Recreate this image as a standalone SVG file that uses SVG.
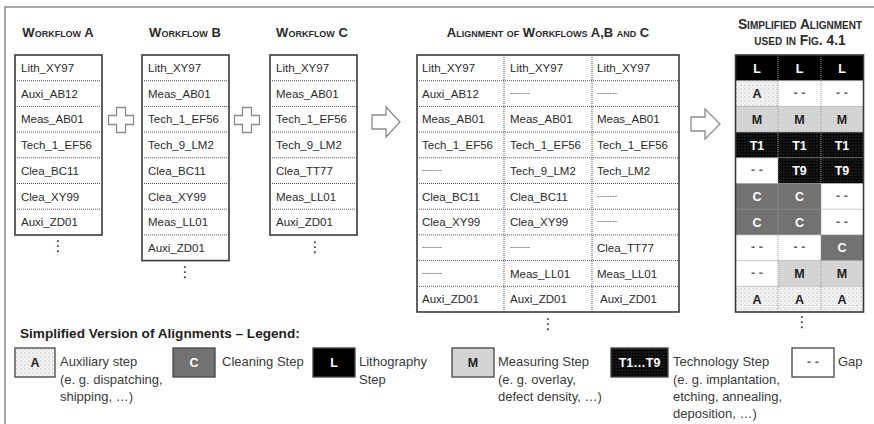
<svg xmlns="http://www.w3.org/2000/svg" width="874" height="424" viewBox="0 0 874 424">
  <defs>
    <style>
      .hdr { font-family: "Liberation Sans", Arial, sans-serif; font-weight: bold; font-size: 13px; font-variant: small-caps; fill: #2b2b2b; }
      .hdr2 { font-size: 13.8px; }
      .cell { font-family: "Liberation Sans", Arial, sans-serif; font-size: 11.5px; fill: #2b2b2b; }
      .gapt { font-family: "Liberation Sans", Arial, sans-serif; font-size: 7.5px; fill: #3a3a3a; }
      .box { fill: #fff; stroke: #3a3a3a; stroke-width: 1.6; }
      .sep { stroke: #555; stroke-width: 1; stroke-dasharray: 1 1; fill: none; }
      .sepl { stroke: #999; stroke-width: 1; stroke-dasharray: 1 1; fill: none; }
      .more { font-family: "DejaVu Sans", sans-serif; font-size: 15px; fill: #333; text-anchor: middle; }
      .sym { font-family: "Liberation Sans", Arial, sans-serif; font-weight: bold; font-size: 12.5px; text-anchor: middle; }
      .w { fill: #fff; }
      .d { fill: #222; }
      .dash { fill: #666; }
      .leg { font-family: "Liberation Sans", Arial, sans-serif; font-size: 13px; fill: #3a3a3a; }
      .legt { font-family: "Liberation Sans", Arial, sans-serif; font-size: 13.6px; font-weight: bold; fill: #222; }
      .conn { fill: #fff; stroke: #8a8a8a; stroke-width: 1.3; stroke-linejoin: miter; }
      .lbox { stroke: #444; stroke-width: 1.3; }
    </style>
    <pattern id="aux" width="4" height="4" patternUnits="userSpaceOnUse">
      <rect width="4" height="4" fill="#f3f3f3"/>
      <circle cx="1" cy="1" r="0.55" fill="#9a9a9a"/>
      <circle cx="3" cy="3" r="0.45" fill="#b5b5b5"/>
    </pattern>
    <pattern id="tech" width="3" height="3" patternUnits="userSpaceOnUse">
      <rect width="3" height="3" fill="#050505"/>
      <circle cx="1" cy="1" r="0.6" fill="#5a5a5a"/>
    </pattern>
    <path id="plus" d="M-4.5,-12.5 H4.5 V-4.5 H12.5 V4.5 H4.5 V12.5 H-4.5 V4.5 H-12.5 V-4.5 H-4.5 Z"/>
  </defs>

  <rect width="874" height="424" fill="#fff"/>
  <!-- frame -->
  <path d="M5,424 V7 H874" fill="none" stroke="#a8a8a8" stroke-width="2"/>

  <!-- Workflow A -->
  <g id="workflow-a">
    <text class="hdr" x="58" y="37" text-anchor="middle">Workflow A</text>
    <rect class="box" x="15" y="55" width="87" height="180"/>
    <path class="sep" d="M15,80.7 H102 M15,106.4 H102 M15,132.1 H102 M15,157.8 H102 M15,183.5 H102 M15,209.2 H102"/>
    <g class="cell">
      <text x="21" y="72">Lith_XY97</text>
      <text x="21" y="97.7">Auxi_AB12</text>
      <text x="21" y="123.4">Meas_AB01</text>
      <text x="21" y="149.1">Tech_1_EF56</text>
      <text x="21" y="174.8">Clea_BC11</text>
      <text x="21" y="200.5">Clea_XY99</text>
      <text x="21" y="226.2">Auxi_ZD01</text>
    </g>
    <text class="more" x="58" y="251">⋮</text>
  </g>

  <!-- Workflow B -->
  <g id="workflow-b">
    <text class="hdr" x="185" y="37" text-anchor="middle">Workflow B</text>
    <rect class="box" x="142" y="55" width="87" height="205.6"/>
    <path class="sep" d="M142,80.7 H229 M142,106.4 H229 M142,132.1 H229 M142,157.8 H229 M142,183.5 H229 M142,209.2 H229 M142,234.9 H229"/>
    <g class="cell">
      <text x="148" y="72">Lith_XY97</text>
      <text x="148" y="97.7">Meas_AB01</text>
      <text x="148" y="123.4">Tech_1_EF56</text>
      <text x="148" y="149.1">Tech_9_LM2</text>
      <text x="148" y="174.8">Clea_BC11</text>
      <text x="148" y="200.5">Clea_XY99</text>
      <text x="148" y="226.2">Meas_LL01</text>
      <text x="148" y="251.9">Auxi_ZD01</text>
    </g>
    <text class="more" x="185" y="277">⋮</text>
  </g>

  <!-- Workflow C -->
  <g id="workflow-c">
    <text class="hdr" x="312" y="37" text-anchor="middle">Workflow C</text>
    <rect class="box" x="270" y="55" width="87" height="180"/>
    <path class="sep" d="M270,80.7 H357 M270,106.4 H357 M270,132.1 H357 M270,157.8 H357 M270,183.5 H357 M270,209.2 H357"/>
    <g class="cell">
      <text x="276" y="72">Lith_XY97</text>
      <text x="276" y="97.7">Meas_AB01</text>
      <text x="276" y="123.4">Tech_1_EF56</text>
      <text x="276" y="149.1">Tech_9_LM2</text>
      <text x="276" y="174.8">Clea_TT77</text>
      <text x="276" y="200.5">Meas_LL01</text>
      <text x="276" y="226.2">Auxi_ZD01</text>
    </g>
    <text class="more" x="315" y="252">⋮</text>
  </g>

  <!-- Alignment of the three workflows -->
  <g id="alignment">
    <text class="hdr" x="548" y="37" text-anchor="middle">Alignment of Workflows A,B and C</text>
    <rect class="box" x="417" y="55" width="262" height="257"/>
    <path class="sep" d="M417,80.7 H679 M417,106.4 H679 M417,132.1 H679 M417,157.8 H679 M417,183.5 H679 M417,209.2 H679 M417,234.9 H679 M417,260.6 H679 M417,286.3 H679 M504,55 V312 M592,55 V312"/>
    <g class="cell">
      <text x="422" y="72">Lith_XY97</text><text x="510" y="72">Lith_XY97</text><text x="597" y="72">Lith_XY97</text>
      <text x="422" y="97.7">Auxi_AB12</text>
      <text x="422" y="123.4">Meas_AB01</text><text x="510" y="123.4">Meas_AB01</text><text x="597" y="123.4">Meas_AB01</text>
      <text x="422" y="149.1">Tech_1_EF56</text><text x="510" y="149.1">Tech_1_EF56</text><text x="597" y="149.1">Tech_1_EF56</text>
      <text x="510" y="174.8">Tech_9_LM2</text><text x="597" y="174.8">Tech_LM2</text>
      <text x="422" y="200.5">Clea_BC11</text><text x="510" y="200.5">Clea_BC11</text>
      <text x="422" y="226.2">Clea_XY99</text><text x="510" y="226.2">Clea_XY99</text>
      <text x="597" y="251.9">Clea_TT77</text>
      <text x="510" y="277.6">Meas_LL01</text><text x="597" y="277.6">Meas_LL01</text>
      <text x="422" y="303.3">Auxi_ZD01</text><text x="510" y="303.3">Auxi_ZD01</text><text x="600" y="303.3">Auxi_ZD01</text>
    </g>
    <g class="gapt">
      <text x="510" y="95">--------</text><text x="597" y="95">--------</text>
      <text x="422" y="172">--------</text>
      <text x="597" y="197.7">--------</text>
      <text x="597" y="223.4">--------</text>
      <text x="422" y="249.1">--------</text><text x="510" y="249.1">--------</text>
      <text x="422" y="274.8">--------</text>
    </g>
    <text class="more" x="548" y="329">⋮</text>
  </g>

  <!-- Simplified alignment -->
  <g id="simplified">
    <text class="hdr hdr2" x="800" y="29" text-anchor="middle">Simplified Alignment</text>
    <text class="hdr hdr2" x="800" y="45" text-anchor="middle">used in Fig. 4.1</text>
    <!-- row 1: lithography -->
    <rect x="735.5" y="55" width="128" height="25.7" fill="#000"/>
    <!-- row 2 -->
    <rect x="735.5" y="80.7" width="42.5" height="25.7" fill="url(#aux)"/>
    <rect x="778" y="80.7" width="85.5" height="25.7" fill="#fff"/>
    <!-- row 3: measuring -->
    <rect x="735.5" y="106.4" width="128" height="25.7" fill="#d4d4d4"/>
    <!-- row 4: technology -->
    <rect x="735.5" y="132.1" width="128" height="25.7" fill="url(#tech)"/>
    <!-- row 5 -->
    <rect x="735.5" y="157.8" width="42.5" height="25.7" fill="#fff"/>
    <rect x="778" y="157.8" width="85.5" height="25.7" fill="url(#tech)"/>
    <!-- rows 6-7: cleaning -->
    <rect x="735.5" y="183.5" width="85.5" height="51.4" fill="#727272"/>
    <rect x="821" y="183.5" width="42.5" height="51.4" fill="#fff"/>
    <!-- row 8 -->
    <rect x="735.5" y="234.9" width="85.5" height="25.7" fill="#fff"/>
    <rect x="821" y="234.9" width="42.5" height="25.7" fill="#727272"/>
    <!-- row 9 -->
    <rect x="735.5" y="260.6" width="42.5" height="25.7" fill="#fff"/>
    <rect x="778" y="260.6" width="85.5" height="25.7" fill="#d4d4d4"/>
    <!-- row 10: auxiliary -->
    <rect x="735.5" y="286.3" width="128" height="25.7" fill="url(#aux)"/>
    <path class="sepl" d="M735.5,80.7 H863.5 M735.5,106.4 H863.5 M735.5,132.1 H863.5 M735.5,157.8 H863.5 M735.5,183.5 H863.5 M735.5,209.2 H863.5 M735.5,234.9 H863.5 M735.5,260.6 H863.5 M735.5,286.3 H863.5 M778,55 V312 M821,55 V312"/>
    <rect x="735.5" y="55" width="128" height="257" fill="none" stroke="#3a3a3a" stroke-width="1.6"/>
    <g class="sym">
      <text class="w" x="757" y="72.5">L</text><text class="w" x="799.5" y="72.5">L</text><text class="w" x="842" y="72.5">L</text>
      <text class="d" x="757" y="98">A</text><text class="dash" x="799.5" y="97">- -</text><text class="dash" x="842" y="97">- -</text>
      <text class="d" x="757" y="124">M</text><text class="d" x="799.5" y="124">M</text><text class="d" x="842" y="124">M</text>
      <text class="w" x="757" y="149.5">T1</text><text class="w" x="799.5" y="149.5">T1</text><text class="w" x="842" y="149.5">T1</text>
      <text class="dash" x="757" y="174">- -</text><text class="w" x="799.5" y="175">T9</text><text class="w" x="842" y="175">T9</text>
      <text class="w" x="757" y="201">C</text><text class="w" x="799.5" y="201">C</text><text class="dash" x="842" y="200">- -</text>
      <text class="w" x="757" y="226.5">C</text><text class="w" x="799.5" y="226.5">C</text><text class="dash" x="842" y="225.5">- -</text>
      <text class="dash" x="757" y="251">- -</text><text class="dash" x="799.5" y="251">- -</text><text class="w" x="842" y="252">C</text>
      <text class="dash" x="757" y="277">- -</text><text class="d" x="799.5" y="278">M</text><text class="d" x="842" y="278">M</text>
      <text class="d" x="757" y="303.5">A</text><text class="d" x="799.5" y="303.5">A</text><text class="d" x="842" y="303.5">A</text>
    </g>
    <text class="more" x="802" y="327">⋮</text>
  </g>

  <!-- combining and transforming arrows -->
  <g id="connectors">
    <use href="#plus" class="conn" x="121" y="120"/>
    <use href="#plus" class="conn" x="247" y="120"/>
    <path class="conn" d="M372,115 H386 V107 L400,122 L386,137 V129 H372 Z"/>
    <path class="conn" d="M691,117 H705 V109 L720,124 L705,139 V131 H691 Z"/>
  </g>

  <!-- Legend -->
  <g id="legend">
    <text class="legt" x="20" y="338">Simplified Version of Alignments – Legend:</text>
    <g id="legend-aux">
      <rect class="lbox" x="15" y="348" width="40" height="29" fill="url(#aux)"/>
      <text class="sym d" x="35" y="367">A</text>
      <text class="leg" x="60" y="366">Auxiliary step</text>
      <text class="leg" x="60" y="384">(e. g. dispatching,</text>
      <text class="leg" x="60" y="401">shipping, …)</text>
    </g>
    <g id="legend-clean">
      <rect class="lbox" x="173" y="348" width="42" height="29" fill="#727272"/>
      <text class="sym w" x="194" y="367">C</text>
      <text class="leg" x="222" y="366">Cleaning Step</text>
    </g>
    <g id="legend-litho">
      <rect class="lbox" x="313" y="348" width="42" height="29" fill="#000"/>
      <text class="sym w" x="334" y="367">L</text>
      <text class="leg" x="359" y="366">Lithography</text>
      <text class="leg" x="359" y="384">Step</text>
    </g>
    <g id="legend-meas">
      <rect class="lbox" x="452" y="348" width="42" height="29" fill="#d4d4d4"/>
      <text class="sym d" x="473" y="367">M</text>
      <text class="leg" x="498" y="366">Measuring Step</text>
      <text class="leg" x="498" y="384">(e. g. overlay,</text>
      <text class="leg" x="498" y="401">defect density, …)</text>
    </g>
    <g id="legend-tech">
      <rect class="lbox" x="611" y="348" width="57" height="29" fill="url(#tech)"/>
      <text class="sym w" x="639.5" y="367">T1…T9</text>
      <text class="leg" x="673" y="366">Technology Step</text>
      <text class="leg" x="673" y="384">(e. g. implantation,</text>
      <text class="leg" x="673" y="401">etching, annealing,</text>
      <text class="leg" x="673" y="418">deposition, …)</text>
    </g>
    <g id="legend-gap">
      <rect class="lbox" x="792" y="348" width="42" height="29" fill="#fff"/>
      <text class="sym dash" x="813" y="366">- -</text>
      <text class="leg" x="838" y="366">Gap</text>
    </g>
  </g>
</svg>
